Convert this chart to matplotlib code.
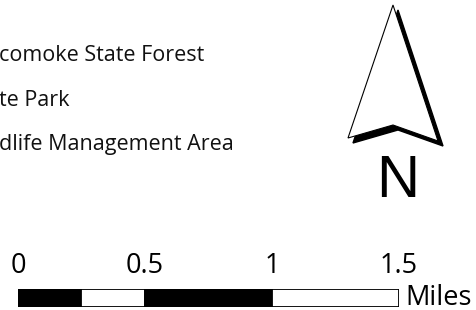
import matplotlib.pyplot as plt
from matplotlib.patches import Polygon
from matplotlib.transforms import blended_transform_factory

# legend entries (cut off at the left edge in the source image)
legend_labels = ["comoke State Forest", "te Park", "dlife Management Area"]

# scale bar in miles
bar_edges = [0, 0.25, 0.5, 1.0, 1.5]
bar_colors = ["black", "white", "black", "white"]
tick_values = [0, 0.5, 1, 1.5]
tick_labels = ["0", "0.5", "1", "1.5"]
unit_label = "Miles"

fig = plt.figure(figsize=(4.77, 3.10), dpi=100)
ax = fig.add_axes([0, 0, 1, 1])
ax.set_xlim(0, 477)
ax.set_ylim(310, 0)
ax.axis("off")

# legend text
for i, lab in enumerate(legend_labels):
    ax.text(-1, 61 + i * 44.5, lab, fontsize=15.5, family="Open Sans",
            ha="left", va="baseline", color="#111111")

# north arrow (pixel layout)
arrow = [(393, 5), (438, 141), (393, 125), (348, 138)]
shadow = [(x + 5, y + 5) for x, y in arrow]
ax.add_patch(Polygon(shadow, closed=True, facecolor="black", edgecolor="black", lw=1))
ax.add_patch(Polygon(arrow, closed=True, facecolor="white", edgecolor="black", lw=0.8))
ax.text(398, 197, "N", fontsize=43, family="Liberation Sans", ha="center", va="baseline")

# scale bar axes, x in miles
sax = fig.add_axes([18 / 477, (310 - 307) / 310, (399 - 18) / 477, 18 / 310])
lefts = bar_edges[:-1]
widths = [b - a for a, b in zip(bar_edges[:-1], bar_edges[1:])]
sax.barh([0] * len(lefts), widths, left=lefts, height=1, color=bar_colors,
         edgecolor="black", linewidth=1.3)
sax.set_xlim(bar_edges[0], bar_edges[-1])
sax.set_ylim(-0.5, 0.5)
sax.axis("off")

tr = blended_transform_factory(sax.transData, ax.transData)
for v, t in zip(tick_values, tick_labels):
    ax.text(v, 273, t, fontsize=19.5, family="Open Sans", ha="center", va="baseline",
            transform=tr)
ax.text(405, 305, unit_label, fontsize=19.5, family="Open Sans",
        ha="left", va="baseline")

fig.savefig("out.png", dpi=100)
